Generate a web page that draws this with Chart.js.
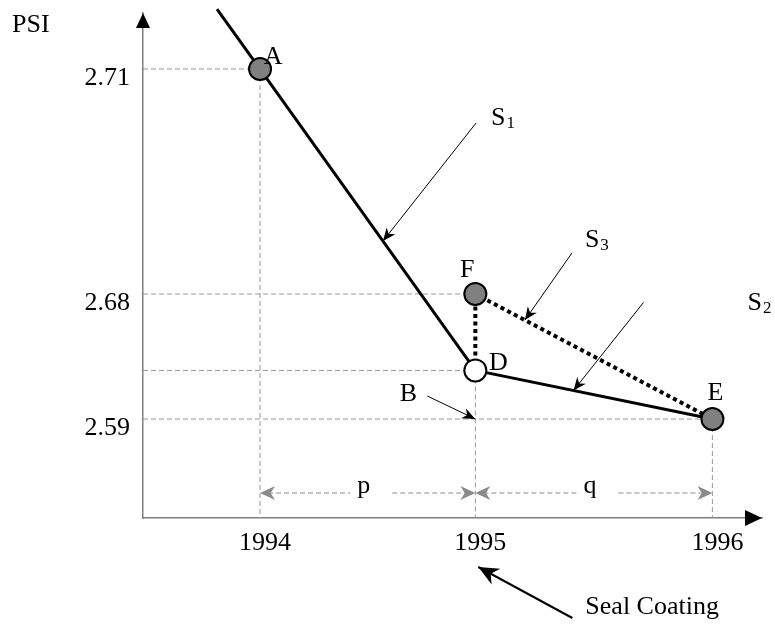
<!DOCTYPE html>
<html>
<head>
<meta charset="utf-8">
<title>PSI</title>
<script src="https://cdn.jsdelivr.net/npm/chart.js@4.4.0/dist/chart.umd.min.js"></script>
<style>
  html, body { margin: 0; padding: 0; background: #fff; }
  #wrap { width: 775px; height: 624px; }
</style>
</head>
<body>
<div id="wrap"><canvas id="chart" width="775" height="624"></canvas></div>
<script>
// ─── Values ──────────────────────────────────────────────────
const years    = [1994, 1995, 1996];
const psiTicks = [2.59, 2.68, 2.71];

// condition points
const pointNames = ['A', 'D', 'E', 'F'];
const pointYears = [1994, 1995, 1996, 1995];
const pointPsi   = [2.71, 2.625, 2.59, 2.68];

// S1 comes in from above A and runs down to D
const s1Years = [1993.8, 1994, 1995];
const s1Psi   = [2.718, 2.71, 2.625];
// S2: D -> E
const s2Years = [1995, 1996];
const s2Psi   = [2.625, 2.59];
// S3: D -> F -> E (dotted)
const s3Years = [1995, 1995, 1996];
const s3Psi   = [2.625, 2.68, 2.59];

const spanNames = ['p', 'q'];
const pointB = { year: 1995, psi: 2.59 };
const treatment = { year: 1995, name: 'Seal Coating' };

// ─── Styles ──────────────────────────────────────────────────
const FONT     = '26px "Liberation Serif", "Times New Roman", serif';
const SUB_FONT = '17px "Liberation Serif", "Times New Roman", serif';
const AXIS  = '#7f7f7f';
const GUIDE = '#9a9a9a';
const SPAN  = '#8a8a8a';

// the diagram is not drawn to scale: each axis is piecewise linear
// between its ticks (value -> fraction of the axis length)
const xSpots = [0.1891, 0.5369, 0.9199];
const ySpots = [0.1960, 0.4436, 0.8891];
const knotsByAxis = {
  x: years.map((v, i) => [v, xSpots[i]]),
  y: psiTicks.map((v, i) => [v, ySpots[i]]),
};

function interp(knots, v, a, b) {
  let i = 0;
  while (i < knots.length - 2 && v > knots[i + 1][a]) i++;
  const k0 = knots[i], k1 = knots[i + 1];
  return k0[b] + (v - k0[a]) * (k1[b] - k0[b]) / (k1[a] - k0[a]);
}

class PiecewiseScale extends Chart.LinearScale {
  static id = 'piecewise';
  static defaults = Chart.LinearScale.defaults;

  getPixelForValue(value) {
    if (value === null || isNaN(value)) return NaN;
    return this.getPixelForDecimal(interp(knotsByAxis[this.id], value, 0, 1));
  }
  getValueForPixel(pixel) {
    return interp(knotsByAxis[this.id], this.getDecimalForPixel(pixel), 1, 0);
  }
}
Chart.register(PiecewiseScale);

// ─── Drawing helpers ─────────────────────────────────────────
function line(ctx, x0, y0, x1, y1) {
  ctx.beginPath();
  ctx.moveTo(x0, y0);
  ctx.lineTo(x1, y1);
  ctx.stroke();
}

// notched arrow head with its tip at (tx,ty), coming from (fx,fy)
function arrowHead(ctx, tx, ty, fx, fy, len, half) {
  const a = Math.atan2(ty - fy, tx - fx);
  const c = Math.cos(a), s = Math.sin(a);
  const bx = tx - c * len, by = ty - s * len;
  const nx = tx - c * len * 0.7, ny = ty - s * len * 0.7;
  ctx.beginPath();
  ctx.moveTo(tx, ty);
  ctx.lineTo(bx - s * half, by + c * half);
  ctx.lineTo(nx, ny);
  ctx.lineTo(bx + s * half, by - c * half);
  ctx.closePath();
  ctx.fill();
}

function pointer(ctx, tx, ty, fx, fy, width, len, half) {
  ctx.lineWidth = width;
  line(ctx, fx, fy, tx, ty);
  arrowHead(ctx, tx, ty, fx, fy, len, half);
}

function label(ctx, text, x, y, align) {
  ctx.font = FONT;
  ctx.textAlign = align || 'center';
  ctx.textBaseline = 'alphabetic';
  ctx.fillText(text, x, y);
}

function subLabel(ctx, main, sub, x, y) {
  ctx.font = FONT;
  ctx.textAlign = 'left';
  ctx.textBaseline = 'alphabetic';
  ctx.fillText(main, x, y);
  const w = ctx.measureText(main).width;
  ctx.font = SUB_FONT;
  ctx.fillText(sub, x + w + 1, y + 3);
}

// label nudges from each marker centre (dx, baseline dy)
const LABEL_NUDGE = { A: [13, -5], D: [23, 0], E: [3, -19], F: [-8, -17] };

// slope pointers: tip sits on a segment at fraction t, tail offset in px
const POINTERS = [
  { from: 'A', to: 'D', t: 0.571, dx: 93, dy: -118, main: 'S', sub: '1', lx: 15, ly: 2 },
  { from: 'F', to: 'E', t: 0.209, dx: 47, dy: -67,  main: 'S', sub: '3', lx: 13, ly: -6 },
  { from: 'D', to: 'E', t: 0.414, dx: 70, dy: -88 },
];

const diagram = {
  id: 'diagram',
  beforeDatasetsDraw(chart) {
    const { ctx, chartArea: area, scales: { x, y } } = chart;
    ctx.save();
    ctx.strokeStyle = GUIDE;
    ctx.lineWidth = 1;
    ctx.setLineDash([5, 3]);

    // horizontal guides from the PSI axis to every marker
    pointNames.forEach((n, i) => {
      const py = y.getPixelForValue(pointPsi[i]);
      line(ctx, area.left, py, x.getPixelForValue(pointYears[i]), py);
    });
    // vertical drops from the lowest marker of each year
    years.forEach(yr => {
      const vals = pointPsi.filter((v, i) => pointYears[i] === yr);
      if (!vals.length) return;
      const px = x.getPixelForValue(yr);
      line(ctx, px, y.getPixelForValue(Math.min(...vals)), px, area.bottom);
    });

    // p / q spans between the years
    const dimY = area.bottom - 25;
    ctx.strokeStyle = SPAN;
    ctx.fillStyle = SPAN;
    for (let i = 0; i < years.length - 1; i++) {
      const x0 = x.getPixelForValue(years[i]);
      const x1 = x.getPixelForValue(years[i + 1]);
      const mid = (x0 + x1) / 2 - 4;
      ctx.font = FONT;
      const w = ctx.measureText(spanNames[i]).width;
      ctx.setLineDash([5, 3]);
      line(ctx, x0 + 8, dimY, mid - w / 2 - 7, dimY);
      line(ctx, mid + w / 2 + 22, dimY, x1 - 8, dimY);
      ctx.setLineDash([]);
      arrowHead(ctx, x0, dimY, x0 + 20, dimY, 15, 7);
      arrowHead(ctx, x1, dimY, x1 - 20, dimY, 15, 7);
      ctx.fillStyle = '#000';
      label(ctx, spanNames[i], mid, dimY);
      ctx.fillStyle = SPAN;
    }
    ctx.restore();
  },

  afterDraw(chart) {
    const { ctx, chartArea: area, scales: { x, y } } = chart;
    const at = n => {
      const i = pointNames.indexOf(n);
      return [x.getPixelForValue(pointYears[i]), y.getPixelForValue(pointPsi[i])];
    };
    ctx.save();
    ctx.fillStyle = '#000';
    ctx.strokeStyle = '#000';

    // axis arrow heads
    ctx.beginPath();
    ctx.moveTo(area.left, area.top);
    ctx.lineTo(area.left - 7, area.top + 15);
    ctx.lineTo(area.left + 7, area.top + 15);
    ctx.closePath();
    ctx.fill();
    ctx.beginPath();
    ctx.moveTo(area.right, area.bottom);
    ctx.lineTo(area.right - 17, area.bottom - 8);
    ctx.lineTo(area.right - 17, area.bottom + 8);
    ctx.closePath();
    ctx.fill();

    label(ctx, 'PSI', 12, 32, 'left');

    // marker letters
    pointNames.forEach(n => {
      const [px, py] = at(n);
      label(ctx, n, px + LABEL_NUDGE[n][0], py + LABEL_NUDGE[n][1]);
    });

    // slope pointers
    POINTERS.forEach(p => {
      const [ax, ay] = at(p.from), [bx, by] = at(p.to);
      const tx = ax + (bx - ax) * p.t, ty = ay + (by - ay) * p.t;
      const fx = tx + p.dx, fy = ty + p.dy;
      pointer(ctx, tx, ty, fx, fy, 1, 13, 5.5);
      if (p.main) subLabel(ctx, p.main, p.sub, fx + p.lx, fy + p.ly);
    });
    const [ex] = at('E'), [, fy] = at('F');
    subLabel(ctx, 'S', '2', ex + 35, fy + 16);

    // B on the 2.59 guide
    const bx = x.getPixelForValue(pointB.year), by = y.getPixelForValue(pointB.psi);
    pointer(ctx, bx, by, bx - 48, by - 23, 1, 13, 5.5);
    label(ctx, 'B', bx - 67, by - 18);

    // treatment note under the year axis
    const sx = x.getPixelForValue(treatment.year);
    pointer(ctx, sx + 3, area.bottom + 49, sx + 97, area.bottom + 100, 2, 20, 9);
    label(ctx, treatment.name, sx + 110, area.bottom + 96, 'left');
    ctx.restore();
  },
};

// ─── Chart ───────────────────────────────────────────────────
const xy = (xs, ys) => xs.map((v, i) => ({ x: v, y: ys[i] }));
const tickFont = { family: '"Liberation Serif", "Times New Roman", serif', size: 26 };

new Chart(document.getElementById('chart'), {
  type: 'scatter',
  data: {
    datasets: [
      {
        label:                'points',
        data:                 xy(pointYears, pointPsi),
        pointRadius:          11,
        pointBackgroundColor: pointNames.map(n => (n === 'D' ? '#ffffff' : '#808080')),
        pointBorderColor:     '#000',
        pointBorderWidth:     2,
        showLine:             false,
        clip:                 false,
      },
      {
        label:       'S3',
        data:        xy(s3Years, s3Psi),
        showLine:    true,
        borderColor: '#000',
        borderWidth: 4,
        borderDash:  [4, 3.5],
        pointRadius: 0,
        clip:        false,
      },
      {
        label:       'S1',
        data:        xy(s1Years, s1Psi),
        showLine:    true,
        borderColor: '#000',
        borderWidth: 3,
        pointRadius: 0,
        clip:        false,
      },
      {
        label:       'S2',
        data:        xy(s2Years, s2Psi),
        showLine:    true,
        borderColor: '#000',
        borderWidth: 3,
        pointRadius: 0,
        clip:        false,
      },
    ],
  },
  options: {
    responsive: false,
    animation:  false,
    events:     [],
    layout:     { padding: { top: 13, right: 4, left: 0, bottom: 0 } },
    plugins: {
      legend:  { display: false },
      tooltip: { enabled: false },
    },
    scales: {
      x: {
        type:     'piecewise',
        position: 'bottom',
        grid:     { display: false, drawTicks: false },
        border:   { color: AXIS, width: 1.5 },
        afterBuildTicks: s => { s.ticks = years.map(v => ({ value: v })); },
        afterFit: s => {
          s.height = 106;
          s.paddingLeft = 0;
          s.paddingRight = 0;
        },
        ticks: {
          font: tickFont, color: '#000', padding: 10, labelOffset: 5,
          autoSkip: false, maxRotation: 0,
          callback: v => String(v),
        },
      },
      y: {
        type:     'piecewise',
        position: 'left',
        grid:     { display: false, drawTicks: false },
        border:   { color: AXIS, width: 1.5 },
        afterBuildTicks: s => { s.ticks = psiTicks.map(v => ({ value: v })); },
        afterFit: s => {
          s.width = 143;
          s.paddingTop = 0;
          s.paddingBottom = 0;
        },
        ticks: {
          font: tickFont, color: '#000', padding: 13, labelOffset: 9,
          autoSkip: false,
          callback: v => Number(v).toFixed(2),
        },
      },
    },
  },
  plugins: [diagram],
});
</script>
</body>
</html>
